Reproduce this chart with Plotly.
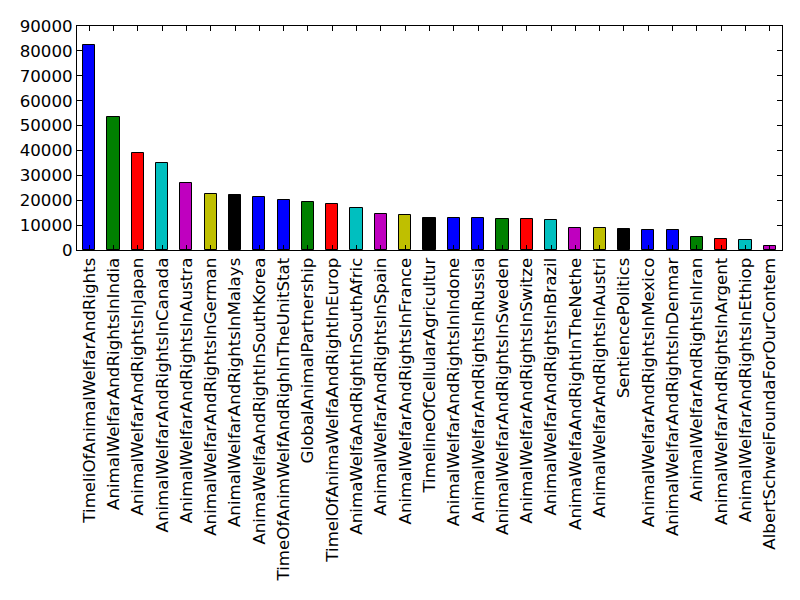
import plotly.graph_objects as go

categories = [
    "TimeliOfAnimalWelfarAndRights", "AnimalWelfarAndRightsInIndia", "AnimalWelfarAndRightsInJapan",
    "AnimalWelfarAndRightsInCanada", "AnimalWelfarAndRightsInAustra", "AnimalWelfarAndRightsInGerman",
    "AnimalWelfarAndRightsInMalays", "AnimaWelfaAndRightInSouthKorea", "TimeOfAnimWelfAndRighInTheUnitStat",
    "GlobalAnimalPartnership", "TimelOfAnimaWelfaAndRightInEurop", "AnimaWelfaAndRightInSouthAfric",
    "AnimalWelfarAndRightsInSpain", "AnimalWelfarAndRightsInFrance", "TimelineOfCellularAgricultur",
    "AnimalWelfarAndRightsInIndone", "AnimalWelfarAndRightsInRussia", "AnimalWelfarAndRightsInSweden",
    "AnimalWelfarAndRightsInSwitze", "AnimalWelfarAndRightsInBrazil", "AnimaWelfaAndRightInTheNethe",
    "AnimalWelfarAndRightsInAustri", "SentiencePolitics", "AnimalWelfarAndRightsInMexico",
    "AnimalWelfarAndRightsInDenmar", "AnimalWelfarAndRightsInIran", "AnimalWelfarAndRightsInArgent",
    "AnimalWelfarAndRightsInEthiop", "AlbertSchweiFoundaForOurContem",
]
values = [
    82300, 53300, 38800, 34800, 26800, 22400, 22100, 21200, 20000, 19200,
    18400, 16800, 14400, 13900, 12900, 12750, 12750, 12350, 12350, 11950,
    8700, 8700, 8450, 7900, 7900, 5100, 4300, 4000, 1500,
]
colors = [
    "#0000ff", "#008000", "#ff0000", "#00bfbf", "#bf00bf", "#bfbf00", "#000000",
    "#0000ff", "#0000ff", "#008000", "#ff0000", "#00bfbf", "#bf00bf", "#bfbf00", "#000000",
    "#0000ff", "#0000ff", "#008000", "#ff0000", "#00bfbf", "#bf00bf", "#bfbf00", "#000000",
    "#0000ff", "#0000ff", "#008000", "#ff0000", "#00bfbf", "#bf00bf",
]
y_ticks = list(range(0, 90001, 10000))

fig = go.Figure(go.Bar(
    x=list(range(len(categories))), y=values, width=0.5,
    marker=dict(color=colors, line=dict(color="black", width=1)),
))
fig.update_layout(
    width=800, height=600,
    margin=dict(l=77, r=18, t=26, b=350, autoexpand=False),
    paper_bgcolor="white", plot_bgcolor="white",
    font=dict(family="DejaVu Sans", size=16.67, color="black"),
    showlegend=False,
    bargap=0,
)
fig.update_xaxes(
    range=[-0.5, len(categories) - 0.5],
    tickmode="array", tickvals=list(range(len(categories))), ticktext=categories,
    tickangle=-90, ticks="inside", ticklen=5, tickcolor="black",
    showline=True, linecolor="black", linewidth=1, mirror="ticks",
    showgrid=False, zeroline=False,
)
fig.update_yaxes(
    range=[0, 90000], tickmode="array", tickvals=y_ticks,
    ticktext=[str(v) for v in y_ticks],
    ticks="inside", ticklen=5, tickcolor="black",
    showline=True, linecolor="black", linewidth=1, mirror="ticks",
    showgrid=False, zeroline=False,
)
fig.write_html("out.html")
